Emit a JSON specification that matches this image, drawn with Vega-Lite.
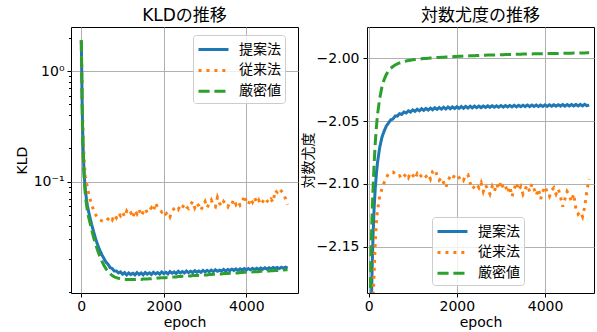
{
  "$schema": "https://vega.github.io/schema/vega-lite/v6.json",
  "padding": {"left": 14, "top": 6, "right": 0, "bottom": 0},
  "bounds": "flush",
  "spacing": 69,
  "resolve": {"legend": {"color": "independent", "strokeDash": "independent"}},
  "config": {
    "font": "DejaVu Sans, Noto Sans CJK JP",
    "view": {"stroke": "black", "strokeWidth": 1},
    "axis": {"domain": false, "tickColor": "black", "tickSize": 4, "tickWidth": 1, "labelFontSize": 14, "labelColor": "black", "labelPadding": 3, "titleFontSize": 14, "titleFontWeight": "normal", "titleColor": "black", "gridColor": "#b0b0b0", "gridWidth": 1},
    "title": {"fontSize": 17, "fontWeight": "normal", "color": "black", "offset": 2},
    "legend": {"labelFontSize": 14, "labelColor": "black"}
  },
  "datasets": {
    "kld": [
      {"e": 0, "p": 1.9, "c": 1.9, "x": 1.9},
      {"e": 10, "p": 0.97, "c": 1.1, "x": 0.95},
      {"e": 20, "p": 0.52, "c": 0.65, "x": 0.5},
      {"e": 30, "p": 0.32, "c": 0.42, "x": 0.3},
      {"e": 40, "p": 0.225, "c": 0.3, "x": 0.21},
      {"e": 50, "p": 0.172, "c": 0.23, "x": 0.16},
      {"e": 60, "p": 0.14, "c": 0.185, "x": 0.13},
      {"e": 70, "p": 0.117, "c": 0.155, "x": 0.108},
      {"e": 80, "p": 0.102, "c": 0.135, "x": 0.094},
      {"e": 90, "p": 0.091, "c": 0.12, "x": 0.083},
      {"e": 100, "p": 0.083, "c": 0.11, "x": 0.075},
      {"e": 125, "p": 0.069, "c": 0.098, "x": 0.062},
      {"e": 150, "p": 0.06, "c": 0.088, "x": 0.054},
      {"e": 175, "p": 0.054, "c": 0.079, "x": 0.048},
      {"e": 200, "p": 0.049, "c": 0.072, "x": 0.044},
      {"e": 250, "p": 0.041, "c": 0.062, "x": 0.037},
      {"e": 300, "p": 0.035, "c": 0.055, "x": 0.031},
      {"e": 350, "p": 0.03, "c": 0.05, "x": 0.027},
      {"e": 400, "p": 0.0265, "c": 0.047, "x": 0.0235},
      {"e": 450, "p": 0.0238, "c": 0.045, "x": 0.021},
      {"e": 500, "p": 0.0217, "c": 0.044, "x": 0.019},
      {"e": 550, "p": 0.0201, "c": 0.0432, "x": 0.0174},
      {"e": 600, "p": 0.0186, "c": 0.0436, "x": 0.0162},
      {"e": 650, "p": 0.0178, "c": 0.046, "x": 0.0153},
      {"e": 700, "p": 0.0166, "c": 0.048, "x": 0.0146},
      {"e": 750, "p": 0.0163, "c": 0.045, "x": 0.0141},
      {"e": 800, "p": 0.0155, "c": 0.05, "x": 0.0137},
      {"e": 850, "p": 0.0155, "c": 0.047, "x": 0.0135},
      {"e": 900, "p": 0.0149, "c": 0.052, "x": 0.0133},
      {"e": 950, "p": 0.0152, "c": 0.049, "x": 0.0132},
      {"e": 1000, "p": 0.0145, "c": 0.053, "x": 0.0131},
      {"e": 1050, "p": 0.015, "c": 0.048, "x": 0.013},
      {"e": 1100, "p": 0.0143, "c": 0.054, "x": 0.013},
      {"e": 1150, "p": 0.0149, "c": 0.05, "x": 0.013},
      {"e": 1200, "p": 0.0144, "c": 0.052, "x": 0.013},
      {"e": 1250, "p": 0.0148, "c": 0.047, "x": 0.013},
      {"e": 1300, "p": 0.0143, "c": 0.055, "x": 0.013},
      {"e": 1350, "p": 0.015, "c": 0.051, "x": 0.013},
      {"e": 1400, "p": 0.0144, "c": 0.056, "x": 0.013},
      {"e": 1450, "p": 0.0149, "c": 0.049, "x": 0.013},
      {"e": 1500, "p": 0.0143, "c": 0.053, "x": 0.0131},
      {"e": 1550, "p": 0.015, "c": 0.057, "x": 0.0131},
      {"e": 1600, "p": 0.0145, "c": 0.052, "x": 0.0131},
      {"e": 1650, "p": 0.0149, "c": 0.055, "x": 0.0132},
      {"e": 1700, "p": 0.0144, "c": 0.058, "x": 0.0132},
      {"e": 1750, "p": 0.0151, "c": 0.054, "x": 0.0133},
      {"e": 1800, "p": 0.0146, "c": 0.064, "x": 0.0133},
      {"e": 1850, "p": 0.015, "c": 0.058, "x": 0.0134},
      {"e": 1900, "p": 0.0145, "c": 0.056, "x": 0.0134},
      {"e": 1950, "p": 0.0152, "c": 0.053, "x": 0.0135},
      {"e": 2000, "p": 0.0147, "c": 0.055, "x": 0.0135},
      {"e": 2050, "p": 0.0151, "c": 0.051, "x": 0.0135},
      {"e": 2100, "p": 0.0146, "c": 0.053, "x": 0.0136},
      {"e": 2150, "p": 0.0153, "c": 0.048, "x": 0.0136},
      {"e": 2200, "p": 0.0148, "c": 0.054, "x": 0.0137},
      {"e": 2250, "p": 0.0152, "c": 0.057, "x": 0.0137},
      {"e": 2300, "p": 0.0147, "c": 0.059, "x": 0.0137},
      {"e": 2350, "p": 0.0154, "c": 0.056, "x": 0.0138},
      {"e": 2400, "p": 0.0149, "c": 0.061, "x": 0.0138},
      {"e": 2450, "p": 0.0153, "c": 0.058, "x": 0.0139},
      {"e": 2500, "p": 0.0149, "c": 0.063, "x": 0.0139},
      {"e": 2550, "p": 0.0155, "c": 0.059, "x": 0.0139},
      {"e": 2600, "p": 0.015, "c": 0.057, "x": 0.014},
      {"e": 2650, "p": 0.0154, "c": 0.062, "x": 0.014},
      {"e": 2700, "p": 0.015, "c": 0.066, "x": 0.0141},
      {"e": 2750, "p": 0.0156, "c": 0.058, "x": 0.0141},
      {"e": 2800, "p": 0.0151, "c": 0.064, "x": 0.0141},
      {"e": 2850, "p": 0.0155, "c": 0.06, "x": 0.0142},
      {"e": 2900, "p": 0.0151, "c": 0.055, "x": 0.0142},
      {"e": 2950, "p": 0.0157, "c": 0.061, "x": 0.0143},
      {"e": 3000, "p": 0.0152, "c": 0.066, "x": 0.0143},
      {"e": 3050, "p": 0.0157, "c": 0.058, "x": 0.0143},
      {"e": 3100, "p": 0.0153, "c": 0.063, "x": 0.0144},
      {"e": 3150, "p": 0.0158, "c": 0.068, "x": 0.0144},
      {"e": 3200, "p": 0.0153, "c": 0.061, "x": 0.0145},
      {"e": 3250, "p": 0.0159, "c": 0.059, "x": 0.0145},
      {"e": 3300, "p": 0.0154, "c": 0.072, "x": 0.0145},
      {"e": 3350, "p": 0.0158, "c": 0.064, "x": 0.0146},
      {"e": 3400, "p": 0.0155, "c": 0.06, "x": 0.0146},
      {"e": 3450, "p": 0.016, "c": 0.066, "x": 0.0147},
      {"e": 3500, "p": 0.0155, "c": 0.062, "x": 0.0147},
      {"e": 3550, "p": 0.016, "c": 0.059, "x": 0.0147},
      {"e": 3600, "p": 0.0156, "c": 0.065, "x": 0.0148},
      {"e": 3650, "p": 0.0161, "c": 0.063, "x": 0.0148},
      {"e": 3700, "p": 0.0157, "c": 0.069, "x": 0.0149},
      {"e": 3750, "p": 0.0162, "c": 0.062, "x": 0.0149},
      {"e": 3800, "p": 0.0157, "c": 0.066, "x": 0.0149},
      {"e": 3850, "p": 0.0162, "c": 0.061, "x": 0.015},
      {"e": 3900, "p": 0.0158, "c": 0.064, "x": 0.015},
      {"e": 3950, "p": 0.0163, "c": 0.075, "x": 0.0151},
      {"e": 4000, "p": 0.0158, "c": 0.066, "x": 0.0151},
      {"e": 4050, "p": 0.0163, "c": 0.062, "x": 0.0151},
      {"e": 4100, "p": 0.0159, "c": 0.07, "x": 0.0152},
      {"e": 4150, "p": 0.0164, "c": 0.065, "x": 0.0152},
      {"e": 4200, "p": 0.016, "c": 0.072, "x": 0.0153},
      {"e": 4250, "p": 0.0164, "c": 0.064, "x": 0.0153},
      {"e": 4300, "p": 0.016, "c": 0.068, "x": 0.0153},
      {"e": 4350, "p": 0.0165, "c": 0.062, "x": 0.0154},
      {"e": 4400, "p": 0.0161, "c": 0.066, "x": 0.0154},
      {"e": 4450, "p": 0.0166, "c": 0.071, "x": 0.0155},
      {"e": 4500, "p": 0.0161, "c": 0.067, "x": 0.0155},
      {"e": 4550, "p": 0.0166, "c": 0.064, "x": 0.0155},
      {"e": 4600, "p": 0.0162, "c": 0.069, "x": 0.0156},
      {"e": 4650, "p": 0.0167, "c": 0.065, "x": 0.0156},
      {"e": 4700, "p": 0.0163, "c": 0.083, "x": 0.0157},
      {"e": 4750, "p": 0.0167, "c": 0.08, "x": 0.0157},
      {"e": 4800, "p": 0.0163, "c": 0.086, "x": 0.0157},
      {"e": 4850, "p": 0.0168, "c": 0.082, "x": 0.0158},
      {"e": 4900, "p": 0.0164, "c": 0.078, "x": 0.0158},
      {"e": 4950, "p": 0.0168, "c": 0.07, "x": 0.0159},
      {"e": 5000, "p": 0.0165, "c": 0.062, "x": 0.0159}
    ],
    "ll": [
      {"e": 0, "p": -2.7, "c": -2.7, "x": -2.6},
      {"e": 10, "p": -2.55, "c": -2.62, "x": -2.45},
      {"e": 20, "p": -2.42, "c": -2.55, "x": -2.3},
      {"e": 30, "p": -2.33, "c": -2.48, "x": -2.22},
      {"e": 40, "p": -2.27, "c": -2.42, "x": -2.18},
      {"e": 50, "p": -2.23, "c": -2.37, "x": -2.16},
      {"e": 60, "p": -2.2, "c": -2.32, "x": -2.145},
      {"e": 70, "p": -2.18, "c": -2.28, "x": -2.133},
      {"e": 80, "p": -2.165, "c": -2.24, "x": -2.122},
      {"e": 90, "p": -2.152, "c": -2.21, "x": -2.112},
      {"e": 100, "p": -2.14, "c": -2.19, "x": -2.103},
      {"e": 125, "p": -2.118, "c": -2.17, "x": -2.083},
      {"e": 150, "p": -2.103, "c": -2.145, "x": -2.067},
      {"e": 175, "p": -2.092, "c": -2.131, "x": -2.055},
      {"e": 200, "p": -2.083, "c": -2.121, "x": -2.045},
      {"e": 250, "p": -2.071, "c": -2.11, "x": -2.032},
      {"e": 300, "p": -2.063, "c": -2.104, "x": -2.023},
      {"e": 350, "p": -2.058, "c": -2.099, "x": -2.017},
      {"e": 400, "p": -2.054, "c": -2.095, "x": -2.013},
      {"e": 450, "p": -2.0515, "c": -2.092, "x": -2.01},
      {"e": 500, "p": -2.049, "c": -2.091, "x": -2.008},
      {"e": 550, "p": -2.0484, "c": -2.0905, "x": -2.0066},
      {"e": 600, "p": -2.046, "c": -2.092, "x": -2.0054},
      {"e": 650, "p": -2.0461, "c": -2.094, "x": -2.0045},
      {"e": 700, "p": -2.0441, "c": -2.0935, "x": -2.0038},
      {"e": 750, "p": -2.0447, "c": -2.096, "x": -2.0032},
      {"e": 800, "p": -2.0428, "c": -2.094, "x": -2.0027},
      {"e": 850, "p": -2.0436, "c": -2.092, "x": -2.0023},
      {"e": 900, "p": -2.0418, "c": -2.095, "x": -2.0019},
      {"e": 950, "p": -2.0428, "c": -2.091, "x": -2.0016},
      {"e": 1000, "p": -2.0411, "c": -2.093, "x": -2.0013},
      {"e": 1050, "p": -2.0423, "c": -2.096, "x": -2.0011},
      {"e": 1100, "p": -2.0406, "c": -2.092, "x": -2.0009},
      {"e": 1150, "p": -2.0419, "c": -2.095, "x": -2.0007},
      {"e": 1200, "p": -2.0402, "c": -2.093, "x": -2.0005},
      {"e": 1250, "p": -2.0415, "c": -2.0915, "x": -2.0003},
      {"e": 1300, "p": -2.0399, "c": -2.094, "x": -2.0002},
      {"e": 1350, "p": -2.0413, "c": -2.092, "x": -2.0},
      {"e": 1400, "p": -2.0397, "c": -2.096, "x": -1.9999},
      {"e": 1450, "p": -2.041, "c": -2.09, "x": -1.9998},
      {"e": 1500, "p": -2.0394, "c": -2.0885, "x": -1.9997},
      {"e": 1550, "p": -2.0407, "c": -2.093, "x": -1.9995},
      {"e": 1600, "p": -2.0392, "c": -2.097, "x": -1.9994},
      {"e": 1650, "p": -2.0405, "c": -2.095, "x": -1.9993},
      {"e": 1700, "p": -2.039, "c": -2.099, "x": -1.9992},
      {"e": 1750, "p": -2.0404, "c": -2.103, "x": -1.9991},
      {"e": 1800, "p": -2.0388, "c": -2.097, "x": -1.999},
      {"e": 1850, "p": -2.0402, "c": -2.094, "x": -1.9989},
      {"e": 1900, "p": -2.0387, "c": -2.096, "x": -1.9988},
      {"e": 1950, "p": -2.04, "c": -2.093, "x": -1.9987},
      {"e": 2000, "p": -2.0386, "c": -2.0925, "x": -1.9986},
      {"e": 2050, "p": -2.0399, "c": -2.095, "x": -1.9985},
      {"e": 2100, "p": -2.0384, "c": -2.094, "x": -1.9984},
      {"e": 2150, "p": -2.0398, "c": -2.097, "x": -1.9983},
      {"e": 2200, "p": -2.0383, "c": -2.093, "x": -1.9983},
      {"e": 2250, "p": -2.0396, "c": -2.0925, "x": -1.9982},
      {"e": 2300, "p": -2.0382, "c": -2.099, "x": -1.9981},
      {"e": 2350, "p": -2.0395, "c": -2.104, "x": -1.998},
      {"e": 2400, "p": -2.0381, "c": -2.102, "x": -1.998},
      {"e": 2450, "p": -2.0394, "c": -2.1, "x": -1.9979},
      {"e": 2500, "p": -2.0381, "c": -2.103, "x": -1.9978},
      {"e": 2550, "p": -2.0393, "c": -2.099, "x": -1.9977},
      {"e": 2600, "p": -2.038, "c": -2.106, "x": -1.9977},
      {"e": 2650, "p": -2.0392, "c": -2.101, "x": -1.9976},
      {"e": 2700, "p": -2.0379, "c": -2.104, "x": -1.9975},
      {"e": 2750, "p": -2.0391, "c": -2.108, "x": -1.9975},
      {"e": 2800, "p": -2.0378, "c": -2.102, "x": -1.9974},
      {"e": 2850, "p": -2.039, "c": -2.106, "x": -1.9974},
      {"e": 2900, "p": -2.0378, "c": -2.1, "x": -1.9973},
      {"e": 2950, "p": -2.039, "c": -2.104, "x": -1.9973},
      {"e": 3000, "p": -2.0377, "c": -2.098, "x": -1.9972},
      {"e": 3050, "p": -2.0389, "c": -2.103, "x": -1.9972},
      {"e": 3100, "p": -2.0376, "c": -2.101, "x": -1.9971},
      {"e": 3150, "p": -2.0388, "c": -2.107, "x": -1.9971},
      {"e": 3200, "p": -2.0376, "c": -2.102, "x": -1.997},
      {"e": 3250, "p": -2.0387, "c": -2.11, "x": -1.997},
      {"e": 3300, "p": -2.0375, "c": -2.104, "x": -1.9969},
      {"e": 3350, "p": -2.0387, "c": -2.099, "x": -1.9969},
      {"e": 3400, "p": -2.0374, "c": -2.105, "x": -1.9968},
      {"e": 3450, "p": -2.0386, "c": -2.102, "x": -1.9968},
      {"e": 3500, "p": -2.0374, "c": -2.108, "x": -1.9967},
      {"e": 3550, "p": -2.0385, "c": -2.104, "x": -1.9967},
      {"e": 3600, "p": -2.0373, "c": -2.101, "x": -1.9967},
      {"e": 3650, "p": -2.0385, "c": -2.106, "x": -1.9966},
      {"e": 3700, "p": -2.0373, "c": -2.1, "x": -1.9966},
      {"e": 3750, "p": -2.0384, "c": -2.104, "x": -1.9965},
      {"e": 3800, "p": -2.0372, "c": -2.109, "x": -1.9965},
      {"e": 3850, "p": -2.0384, "c": -2.104, "x": -1.9965},
      {"e": 3900, "p": -2.0372, "c": -2.112, "x": -1.9964},
      {"e": 3950, "p": -2.0383, "c": -2.106, "x": -1.9964},
      {"e": 4000, "p": -2.0371, "c": -2.102, "x": -1.9964},
      {"e": 4050, "p": -2.0383, "c": -2.107, "x": -1.9963},
      {"e": 4100, "p": -2.0371, "c": -2.11, "x": -1.9963},
      {"e": 4150, "p": -2.0382, "c": -2.105, "x": -1.9963},
      {"e": 4200, "p": -2.037, "c": -2.103, "x": -1.9962},
      {"e": 4250, "p": -2.0382, "c": -2.108, "x": -1.9962},
      {"e": 4300, "p": -2.037, "c": -2.104, "x": -1.9962},
      {"e": 4350, "p": -2.0381, "c": -2.11, "x": -1.9961},
      {"e": 4400, "p": -2.0369, "c": -2.118, "x": -1.9961},
      {"e": 4450, "p": -2.0381, "c": -2.112, "x": -1.9961},
      {"e": 4500, "p": -2.0369, "c": -2.106, "x": -1.996},
      {"e": 4550, "p": -2.038, "c": -2.109, "x": -1.996},
      {"e": 4600, "p": -2.0368, "c": -2.114, "x": -1.996},
      {"e": 4650, "p": -2.038, "c": -2.108, "x": -1.9959},
      {"e": 4700, "p": -2.0368, "c": -2.12, "x": -1.9959},
      {"e": 4750, "p": -2.0379, "c": -2.124, "x": -1.9959},
      {"e": 4800, "p": -2.0367, "c": -2.122, "x": -1.9958},
      {"e": 4850, "p": -2.0379, "c": -2.126, "x": -1.9958},
      {"e": 4900, "p": -2.0367, "c": -2.118, "x": -1.9958},
      {"e": 4950, "p": -2.0378, "c": -2.105, "x": -1.9957},
      {"e": 5000, "p": -2.0372, "c": -2.096, "x": -1.9957}
    ]
  },
  "hconcat": [
    {
      "width": 227,
      "height": 266,
      "title": {"text": "KLDの推移", "anchor": "middle"},
      "data": {"name": "kld"},
      "transform": [{"fold": ["p", "c", "x"], "as": ["m", "v"]}],
      "layer": [
        {
          "mark": {"type": "line", "clip": true, "strokeWidth": 3, "strokeCap": "butt"},
          "encoding": {
            "x": {"field": "e", "type": "quantitative", "scale": {"domain": [-250, 5253], "nice": false, "zero": false}, "axis": {"values": [0, 2000, 4000], "format": "d", "title": "epoch", "titlePadding": 2, "labelPadding": 2}},
            "y": {"field": "v", "type": "quantitative", "scale": {"type": "log", "domain": [0.0098, 2.51], "nice": false}, "axis": {"values": [0.1, 1], "labelExpr": "datum.value >= 1 ? '10⁰' : '10⁻¹'", "title": "KLD", "titlePadding": 4}},
            "color": {"field": "m", "type": "nominal", "scale": {"domain": ["p", "c", "x"], "range": ["#1f77b4", "#ff7f0e", "#2ca02c"]}, "legend": {"orient": "none", "legendX": 122, "legendY": 8, "title": null, "labelExpr": "datum.value == 'p' ? '提案法' : datum.value == 'c' ? '従来法' : '厳密値'", "symbolType": "M-1,0H2.33", "symbolSize": 324, "symbolStrokeWidth": 3, "labelOffset": 21, "rowPadding": 2.9, "padding": 4, "fillColor": "rgba(255,255,255,0.8)", "strokeColor": "#cccccc", "cornerRadius": 3}},
            "strokeDash": {"field": "m", "type": "nominal", "scale": {"domain": ["p", "c", "x"], "range": [[1, 0], [3, 4.95], [11.1, 4.8]]}, "legend": null}
          }
        },
        {
          "mark": {"type": "line", "opacity": 0},
          "encoding": {
            "x": {"field": "e", "type": "quantitative", "axis": {"values": [0, 2000, 4000], "format": "d", "title": "epoch", "titlePadding": 2, "labelPadding": 2}},
            "y": {"field": "v", "type": "quantitative", "axis": {"orient": "left", "values": [0.01, 0.02, 0.03, 0.04, 0.05, 0.06, 0.07, 0.08, 0.09, 0.2, 0.3, 0.4, 0.5, 0.6, 0.7, 0.8, 0.9, 2], "labels": false, "grid": false, "tickSize": 2.5, "title": null}}
          }
        }
      ],
      "resolve": {"axis": {"y": "independent"}}
    },
    {
      "width": 227,
      "height": 266,
      "title": {"text": "対数尤度の推移", "anchor": "middle"},
      "data": {"name": "ll"},
      "transform": [{"fold": ["p", "c", "x"], "as": ["m", "v"]}],
      "mark": {"type": "line", "clip": true, "strokeWidth": 3, "strokeCap": "butt"},
      "encoding": {
        "x": {"field": "e", "type": "quantitative", "scale": {"domain": [-38, 5110], "nice": false, "zero": false}, "axis": {"values": [0, 2000, 4000], "format": "d", "title": "epoch", "titlePadding": 2, "labelPadding": 2}},
        "y": {"field": "v", "type": "quantitative", "scale": {"domain": [-2.1867, -1.9752], "nice": false, "zero": false}, "axis": {"values": [-2.15, -2.1, -2.05, -2.0], "format": ".2f", "title": "対数尤度", "titlePadding": 1, "labelPadding": 4}},
        "color": {"field": "m", "type": "nominal", "scale": {"domain": ["p", "c", "x"], "range": ["#1f77b4", "#ff7f0e", "#2ca02c"]}, "legend": {"orient": "none", "legendX": 65, "legendY": 190, "title": null, "labelExpr": "datum.value == 'p' ? '提案法' : datum.value == 'c' ? '従来法' : '厳密値'", "symbolType": "M-1,0H2.33", "symbolSize": 324, "symbolStrokeWidth": 3, "labelOffset": 21, "rowPadding": 2.9, "padding": 4, "fillColor": "rgba(255,255,255,0.8)", "strokeColor": "#cccccc", "cornerRadius": 3}},
        "strokeDash": {"field": "m", "type": "nominal", "scale": {"domain": ["p", "c", "x"], "range": [[1, 0], [3, 4.95], [11.1, 4.8]]}, "legend": null}
      }
    }
  ]
}
